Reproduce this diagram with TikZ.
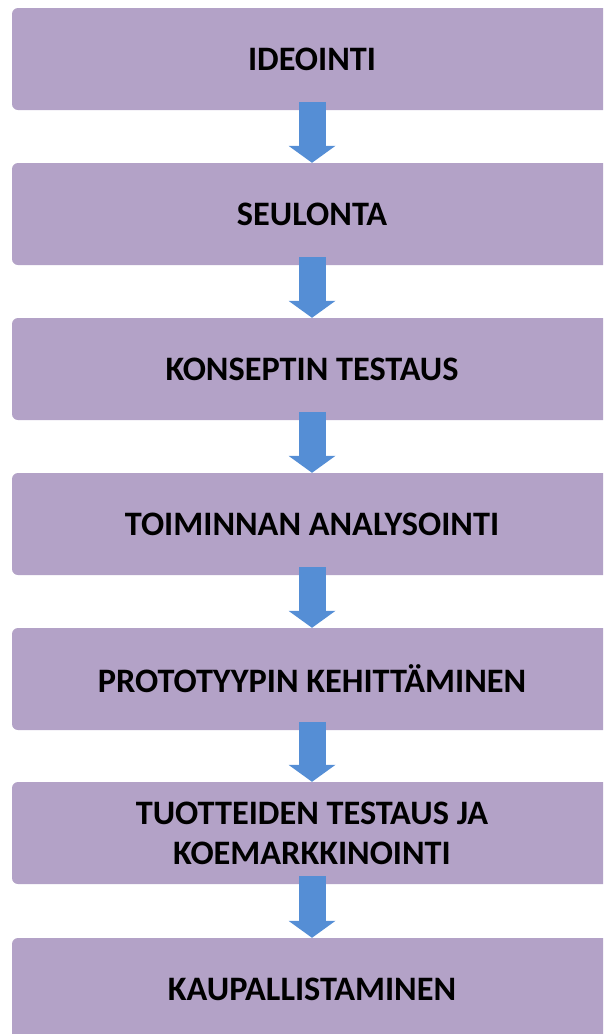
\documentclass[tikz,border=0pt]{standalone}
\usepackage{fontspec}
\setmainfont{Carlito}
\usetikzlibrary{arrows.meta, positioning}
\usepackage{xcolor}
\definecolor{StageLilac}{HTML}{B3A2C7}
\definecolor{StageBlue}{HTML}{558ED5}
\tikzset{
    % Box styles - rounded lilac bars
    stagebox/.style={
        rectangle,
        rounded corners=6pt,
        fill=StageLilac,
        draw=none,
        minimum width=600pt,
        minimum height=102pt,
        align=center,
        font=\fontsize{34.3}{40}\selectfont\bfseries
    },
    % Arrow styles - thick blue block arrows
    blockarrow/.style={
        -{Triangle[width=47pt, length=17pt, line width=0pt]},
        line width=27pt,
        draw=StageBlue,
        fill=StageBlue
    }
}
\begin{document}
\begin{tikzpicture}[x=1pt, y=-1pt]
    \clip (0,0) rectangle (603,1034);

    \node[stagebox] (idea) at (312,59) {IDEOINTI};
    \node[stagebox] (screen) at (312,214) {SEULONTA};
    \node[stagebox] (concept) at (312,369) {KONSEPTIN TESTAUS};
    \node[stagebox] (analysis) at (312,524) {TOIMINNAN ANALYSOINTI};
    \node[stagebox] (proto) at (312,679) {PROTOTYYPIN KEHITTÄMINEN};
    \node[stagebox] (market) at (312,833) {TUOTTEIDEN TESTAUS JA\\KOEMARKKINOINTI};
    \node[stagebox] (launch) at (312,989) {KAUPALLISTAMINEN};

    \draw[blockarrow] ([yshift=8pt]idea.south) -- (screen.north);
    \draw[blockarrow] ([yshift=8pt]screen.south) -- (concept.north);
    \draw[blockarrow] ([yshift=8pt]concept.south) -- (analysis.north);
    \draw[blockarrow] ([yshift=8pt]analysis.south) -- (proto.north);
    \draw[blockarrow] ([yshift=8pt]proto.south) -- (market.north);
    \draw[blockarrow] ([yshift=8pt]market.south) -- (launch.north);
\end{tikzpicture}
\end{document}
